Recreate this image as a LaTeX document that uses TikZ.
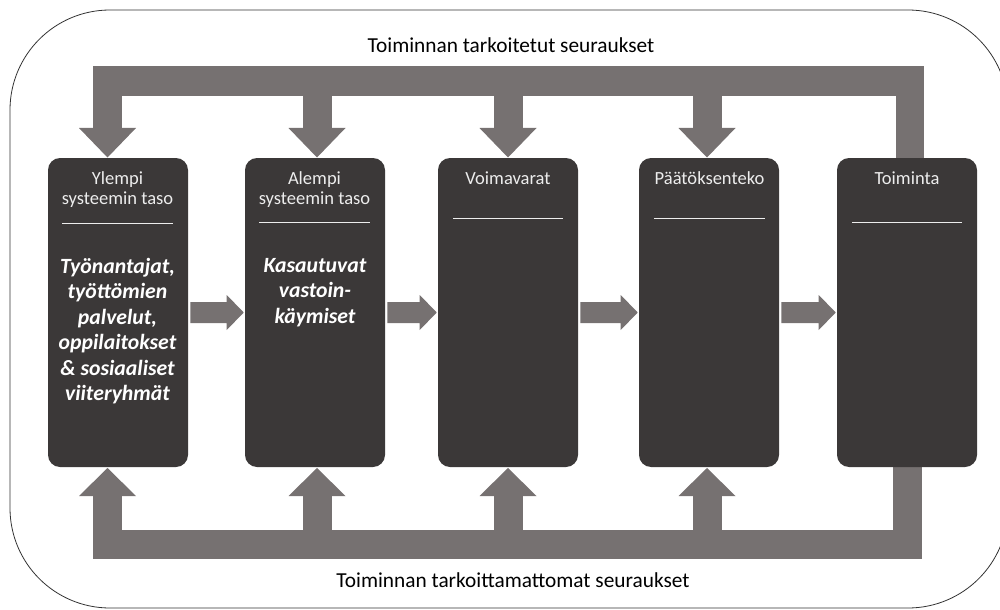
\documentclass[tikz,border=0pt]{standalone}
\usepackage{fontspec}
\setmainfont{Carlito}
\usetikzlibrary{calc}
\definecolor{boxfill}{HTML}{3B3838}
\definecolor{arrowgray}{HTML}{767171}
\definecolor{titlegray}{HTML}{EDEDED}
\begin{document}
\begin{tikzpicture}[x=0.75pt,y=-0.75pt,
  box/.style={fill=boxfill, rounded corners=9pt, minimum width=105pt, minimum height=231.75pt, inner sep=0pt, draw=none},
  arr/.style={fill=arrowgray},
  titletext/.style={text=titlegray, font=\fontsize{13.9}{15}\selectfont, align=center, anchor=north, inner sep=0pt},
  bodytext/.style={text=white, font=\fontsize{16.3}{19.1}\selectfont\bfseries\itshape, align=center, anchor=north, inner sep=0pt},
  sidelabel/.style={font=\fontsize{16}{18}\selectfont, text=black, inner sep=0pt},
  sepline/.style={draw=titlegray, line width=0.75pt},
  frame/.style={draw=black!80, line width=0.6pt, rounded corners=75pt}
]
\useasboundingbox (0,0) rectangle (1000,610);
\clip (0,0) rectangle (1000,610);
% outer frame
\draw[frame] (10,10) rectangle (1008,608);

% top feedback frame
\fill[arr] (93,66) rectangle (924,96);
\fill[arr] (896,90) rectangle (924,158);
\foreach \cx in {107.5,317,508,707}{
  \fill[arr] (\cx-14.5,94) rectangle (\cx+14.5,129);
  \fill[arr] (\cx-28.5,128) -- (\cx+28.5,128) -- (\cx,157.5) -- cycle;
}
% bottom feedback frame
\fill[arr] (93,530) rectangle (922,559);
\fill[arr] (893,467) rectangle (922,535);
\foreach \cx in {107.5,317,508,707}{
  \fill[arr] (\cx-14.5,495) rectangle (\cx+14.5,532);
  \fill[arr] (\cx-28.5,496) -- (\cx+28.5,496) -- (\cx,468) -- cycle;
}

% boxes
\node[box] (b1) at (118,312.5) {};
\node[box] (b2) at (315,312.5) {};
\node[box] (b3) at (508,312.5) {};
\node[box] (b4) at (709,312.5) {};
\node[box] (b5) at (907,312.5) {};

% horizontal arrows between boxes
\foreach \a/\b in {b1/b2,b2/b3,b3/b4,b4/b5}{
  \fill[arr] ($(\a.east)+(2,-10.5)$) -- ($(\b.west)+(-18,-10.5)$) -- ($(\b.west)+(-18,-17.5)$)
    -- ($(\b.west)+(-1,0)$) -- ($(\b.west)+(-18,17.5)$) -- ($(\b.west)+(-18,10.5)$)
    -- ($(\a.east)+(2,10.5)$) -- cycle;
}

% titles
\node[titletext] (t1) at (117.5,171) {Ylempi\\systeemin taso};
\node[titletext] (t2) at (314.5,171) {Alempi\\systeemin taso};
\node[titletext] (t3) at (508,171) {Voimavarat};
\node[titletext] (t4) at (709.5,171) {Päätöksenteko};
\node[titletext] (t5) at (907,171) {Toiminta};

% separator lines
\draw[sepline] (62,223) -- (173,223);
\draw[sepline] (259,222) -- (370,222);
\draw[sepline] (453,218) -- (563,218);
\draw[sepline] (654,218) -- (765,218);
\draw[sepline] (852,222) -- (962,222);

% body texts
\node[bodytext] (d1) at (117.5,258) {Työnantajat,\\työttömien\\palvelut,\\oppilaitokset\\\& sosiaaliset\\viiteryhmät};
\node[bodytext] (d2) at (315,258) {Kasautuvat\\vastoin-\\käymiset};

% labels
\node[sidelabel] (lt) at (511,45) {Toiminnan tarkoitetut seuraukset};
\node[sidelabel] (lb) at (513,580) {Toiminnan tarkoittamattomat seuraukset};
\end{tikzpicture}
\end{document}
